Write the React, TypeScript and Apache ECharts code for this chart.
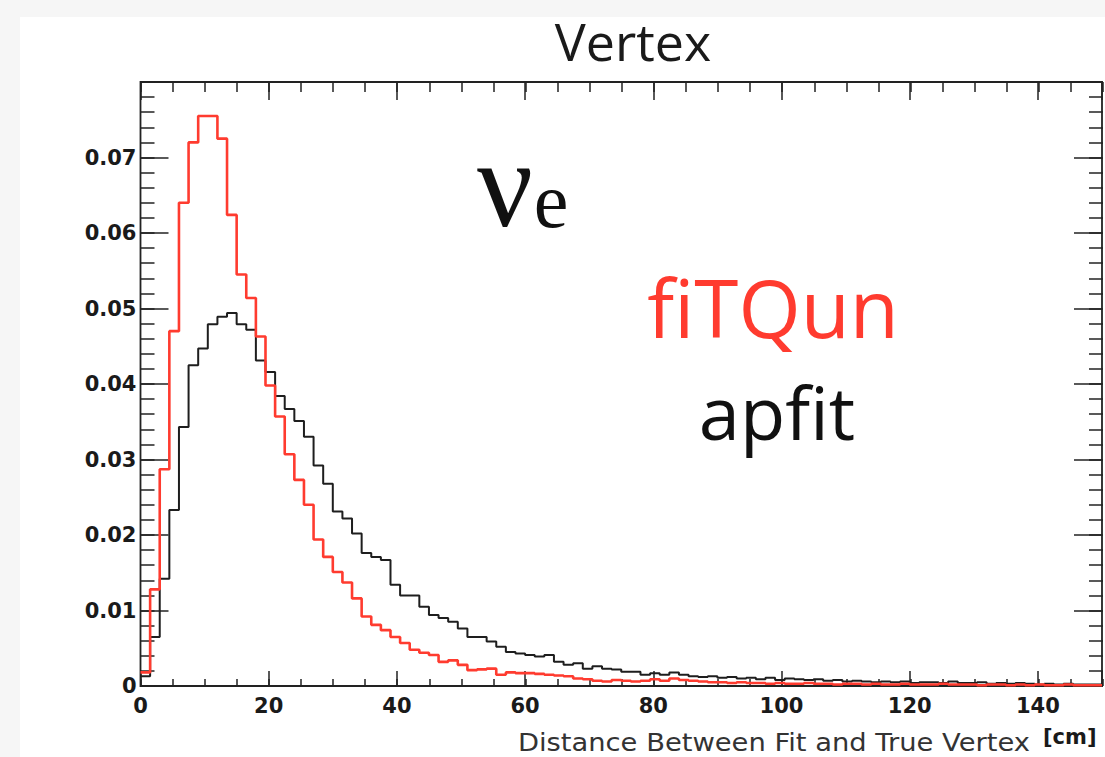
import React, { useEffect, useRef } from "react";
import * as echarts from "echarts";

// Histogram: 100 bins of 1.5 cm from 0 to 150 cm
const BIN_WIDTH = 1.5;
const N_BINS = 100;

const fitqunValues = [
  0.0018, 0.0128, 0.0287, 0.047, 0.064, 0.072, 0.0755, 0.0755, 0.0725, 0.0624,
  0.0545, 0.0514, 0.0463, 0.0398, 0.0357, 0.0307, 0.0273, 0.024, 0.0194, 0.0171,
  0.0151, 0.0137, 0.0116, 0.0092, 0.0081, 0.0074, 0.0065, 0.0057, 0.0048, 0.0044,
  0.0041, 0.0032, 0.0034, 0.0028, 0.0021, 0.0022, 0.0023, 0.0015, 0.0018, 0.0017,
  0.0017, 0.0016, 0.0015, 0.0014, 0.0013, 0.001, 0.0009, 0.0007, 0.0006, 0.0008,
  0.0007, 0.0006, 0.0007, 0.0009, 0.0007, 0.001, 0.0008, 0.0007, 0.0006, 0.0005,
  0.0005, 0.0004, 0.0005, 0.0004, 0.0004, 0.0003, 0.0004, 0.0003, 0.0003, 0.0004,
  0.0003, 0.0003, 0.0002, 0.0003, 0.0003, 0.0002, 0.0003, 0.0002, 0.0002, 0.0003,
  0.0002, 0.0002, 0.0002, 0.0003, 0.0002, 0.0002, 0.0002, 0.0001, 0.0002, 0.0002,
  0.0001, 0.0002, 0.0001, 0.0002, 0.0001, 0.0001, 0.0002, 0.0001, 0.0001, 0.0001,
];

const apfitValues = [
  0.0013, 0.0065, 0.0142, 0.0233, 0.0343, 0.0425, 0.0447, 0.0479, 0.0489, 0.0494,
  0.0479, 0.0472, 0.0431, 0.0416, 0.0384, 0.0367, 0.0351, 0.033, 0.0292, 0.0268,
  0.0231, 0.0222, 0.0202, 0.0176, 0.0171, 0.0167, 0.0134, 0.012, 0.012, 0.0105,
  0.0094, 0.009, 0.0085, 0.0076, 0.0065, 0.0065, 0.0059, 0.0052, 0.0045, 0.0043,
  0.0041, 0.0039, 0.0041, 0.0032, 0.0028, 0.003, 0.0023, 0.0026, 0.0023, 0.0022,
  0.0019, 0.0019, 0.0015, 0.0017, 0.0015, 0.0018, 0.0015, 0.0013, 0.0012, 0.0013,
  0.0011, 0.0012, 0.001, 0.0011, 0.0009, 0.0011, 0.0008, 0.001, 0.0009, 0.0008,
  0.0009, 0.0007, 0.0008, 0.0006, 0.0007, 0.0006, 0.0005, 0.0006, 0.0005, 0.0006,
  0.0004, 0.0005, 0.0005, 0.0004, 0.0006, 0.0004, 0.0004, 0.0005, 0.0003, 0.0004,
  0.0003, 0.0004, 0.0003, 0.0002, 0.0003, 0.0002, 0.0003, 0.0002, 0.0002, 0.0002,
];

const X_MIN = 0;
const X_MAX = 150;
const Y_MIN = 0;
const Y_MAX = 0.08;
const X_MAJOR = 20;
const X_MINOR = 5;
const Y_MAJOR = 0.01;
const Y_MINOR = 0.002;

const TITLE = "Vertex";
const X_TITLE = "Distance Between Fit and True Vertex";
const X_UNIT = "[cm]";
const LABEL_FITQUN = "fiTQun";
const LABEL_APFIT = "apfit";

const RED = "#ff3b2f";
const BLACK = "#1e1e1e";

function histPoints(vals: number[]) {
  const pts: number[][] = [];
  for (let i = 0; i <= N_BINS; i++) {
    pts.push([i * BIN_WIDTH, vals[Math.min(i, N_BINS - 1)]]);
  }
  return pts;
}

const tickStyle = { color: "#222", width: 1.5 };

const labelFont = {
  color: "#1a1a1a",
  fontFamily: "DejaVu Sans",
  fontWeight: "bold",
  fontSize: 21,
};

function xAxis(gridIndex: number, position: string, interval: number, len: number, labels: boolean) {
  return {
    type: "value",
    gridIndex,
    position,
    min: X_MIN,
    max: X_MAX,
    interval,
    axisLine: { show: false, onZero: false },
    splitLine: { show: false },
    axisTick: { show: true, inside: true, length: len, lineStyle: tickStyle },
    axisLabel: labels
      ? {
          show: true,
          margin: 9,
          ...labelFont,
          formatter: (v: number) => (v >= X_MAX ? "" : String(v)),
        }
      : { show: false },
  };
}

function yAxis(gridIndex: number, position: string, interval: number, len: number, labels: boolean) {
  return {
    type: "value",
    gridIndex,
    position,
    min: Y_MIN,
    max: Y_MAX,
    interval,
    axisLine: { show: false, onZero: false },
    splitLine: { show: false },
    axisTick: { show: true, inside: true, length: len, lineStyle: tickStyle },
    axisLabel: labels
      ? {
          show: true,
          margin: 4,
          ...labelFont,
          formatter: (v: number) =>
            v === 0 ? "0" : v >= Y_MAX - 1e-9 ? "" : v.toFixed(2),
        }
      : { show: false },
  };
}

const gridRect = { left: 140.5, right: 2, top: 82, bottom: 71 };

export default function App() {
  const ref = useRef<HTMLDivElement>(null);
  useEffect(() => {
    if (!ref.current) return;
    const chart = echarts.init(ref.current, null, { renderer: "svg" });
    chart.setOption({
      animation: false,
      backgroundColor: "#f6f6f6",
      grid: [
        {
          ...gridRect,
          show: true,
          borderColor: "#222",
          borderWidth: 1.8,
          backgroundColor: "transparent",
        },
        { ...gridRect, show: false },
      ],
      xAxis: [
        xAxis(0, "bottom", X_MAJOR, 15, true),
        xAxis(0, "top", X_MAJOR, 18, false),
        xAxis(1, "bottom", X_MINOR, 7, false),
        xAxis(1, "top", X_MINOR, 10, false),
      ],
      yAxis: [
        yAxis(0, "left", Y_MAJOR, 28, true),
        yAxis(0, "right", Y_MAJOR, 28, false),
        yAxis(1, "left", Y_MINOR, 14, false),
        yAxis(1, "right", Y_MINOR, 14, false),
      ],
      series: [
        {
          name: LABEL_APFIT,
          type: "line",
          step: "end",
          xAxisIndex: 0,
          yAxisIndex: 0,
          symbol: "none",
          data: histPoints(apfitValues),
          lineStyle: { color: BLACK, width: 2 },
          z: 3,
        },
        {
          name: LABEL_FITQUN,
          type: "line",
          step: "end",
          xAxisIndex: 0,
          yAxisIndex: 0,
          symbol: "none",
          data: histPoints(fitqunValues),
          lineStyle: { color: RED, width: 2.6 },
          z: 4,
        },
      ],
      graphic: [
        {
          type: "rect",
          z: -10,
          shape: { x: 20, y: 17, width: 1085, height: 740 },
          style: { fill: "#ffffff" },
        },
        {
          type: "text",
          x: 633,
          y: 40,
          style: {
            text: TITLE,
            fontFamily: "Open Sans",
            fontSize: 52,
            fill: "#1a1a1a",
            align: "center",
            verticalAlign: "middle",
          },
        },
        {
          type: "text",
          x: 505,
          y: 184,
          style: {
            text: "ν",
            fontFamily: "Liberation Serif",
            fontSize: 124,
            fill: "#111",
            align: "center",
            verticalAlign: "middle",
          },
        },
        {
          type: "text",
          x: 551,
          y: 200,
          style: {
            text: "e",
            fontFamily: "Liberation Serif",
            fontSize: 78,
            fill: "#111",
            align: "center",
            verticalAlign: "middle",
          },
        },
        {
          type: "text",
          x: 773,
          y: 306,
          style: {
            text: LABEL_FITQUN,
            fontFamily: "Open Sans",
            fontSize: 80,
            fill: RED,
            align: "center",
            verticalAlign: "middle",
          },
        },
        {
          type: "text",
          x: 777,
          y: 411,
          style: {
            text: LABEL_APFIT,
            fontFamily: "Open Sans",
            fontSize: 74,
            fill: "#111",
            align: "center",
            verticalAlign: "middle",
          },
        },
        {
          type: "text",
          x: 1030,
          y: 743,
          scaleX: 1.14,
          style: {
            text: X_TITLE,
            fontFamily: "DejaVu Sans",
            fontSize: 24,
            fill: "#333",
            align: "right",
            verticalAlign: "middle",
          },
        },
        {
          type: "text",
          x: 1043,
          y: 737,
          style: {
            text: X_UNIT,
            fontFamily: "DejaVu Sans",
            fontWeight: "bold",
            fontSize: 21,
            fill: "#1a1a1a",
            align: "left",
            verticalAlign: "middle",
          },
        },
      ],
    });
    return () => chart.dispose();
  }, []);
  return (
    <div
      style={{
        position: "absolute",
        left: 0,
        top: 0,
        width: 1105,
        height: 757,
        background: "#f6f6f6",
      }}
    >
      <div ref={ref} style={{ width: 1105, height: 757 }} />
    </div>
  );
}
